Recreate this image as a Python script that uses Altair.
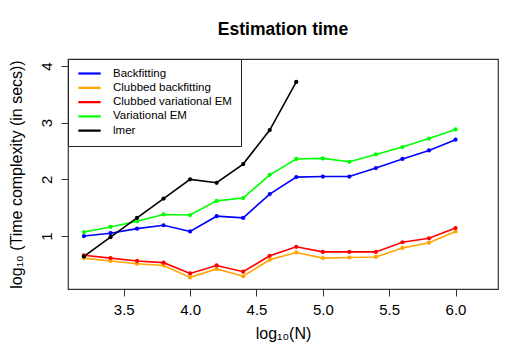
import altair as alt
import pandas as pd

log_n = [3.2, 3.4, 3.6, 3.8, 4.0, 4.2, 4.4, 4.6, 4.8, 5.0, 5.2, 5.4, 5.6, 5.8, 6.0]

backfitting = [1.00, 1.05, 1.13, 1.19, 1.08, 1.35, 1.32, 1.74, 2.04, 2.05, 2.05, 2.20, 2.36, 2.51, 2.70]
clubbed_backfitting = [0.61, 0.56, 0.51, 0.48, 0.27, 0.42, 0.29, 0.58, 0.71, 0.61, 0.62, 0.63, 0.79, 0.88, 1.08]
clubbed_vem = [0.66, 0.61, 0.56, 0.53, 0.34, 0.48, 0.37, 0.65, 0.81, 0.72, 0.72, 0.72, 0.89, 0.96, 1.14]
variational_em = [1.07, 1.16, 1.26, 1.38, 1.37, 1.62, 1.67, 2.08, 2.36, 2.37, 2.31, 2.44, 2.57, 2.72, 2.88]
lmer = [0.64, 0.98, 1.32, 1.66, 2.00, 1.94, 2.27, 2.87, 3.72]

series_names = ["Backfitting", "Clubbed backfitting", "Clubbed variational EM", "Variational EM", "lmer"]
series_values = [backfitting, clubbed_backfitting, clubbed_vem, variational_em, lmer]
series_colors = ["#0000FF", "#FFA500", "#FF0000", "#00FF00", "#000000"]

x_ticks = [3.5, 4.0, 4.5, 5.0, 5.5, 6.0]
y_ticks = [1, 2, 3, 4]

rows = []
for name, vals in zip(series_names, series_values):
    for xv, yv in zip(log_n, vals):
        rows.append({"series": name, "x": xv, "y": yv})
df = pd.DataFrame(rows)

font = "Liberation Sans"

x_enc = alt.X("x:Q", scale=alt.Scale(domain=[3.08, 6.32], nice=False, zero=False),
              axis=alt.Axis(values=x_ticks, format=".1f", title="log₁₀(N)"))
y_enc = alt.Y("y:Q", scale=alt.Scale(domain=[0.065, 4.124], nice=False, zero=False),
              axis=alt.Axis(values=y_ticks, format="d", title="log₁₀ (Time complexity (in secs))",
                            labelAngle=270, labelAlign="center", labelBaseline="middle",
                            labelPadding=15, titlePadding=15))
color_scale = alt.Scale(domain=series_names, range=series_colors)

lines = alt.Chart(df).mark_line(strokeWidth=1.6).encode(
    x=x_enc, y=y_enc,
    color=alt.Color("series:N", scale=color_scale, sort=series_names,
                    legend=alt.Legend(title=None, orient="top-left", offset=0,
                                      symbolType="stroke", symbolStrokeWidth=2.2,
                                      symbolSize=500, clipHeight=11,
                                      labelFontSize=11.5, labelFont=font,
                                      labelOffset=11, rowPadding=2.3, padding=9,
                                      strokeColor="#222222", fillColor="white",
                                      cornerRadius=0, labelLimit=300)),
)
points = alt.Chart(df).mark_circle(size=18, opacity=1).encode(
    x=x_enc, y=y_enc,
    color=alt.Color("series:N", scale=color_scale, legend=None),
)

chart = alt.layer(lines, points).properties(
    width=430, height=230,
    title=alt.TitleParams("Estimation time", font=font, fontSize=17.5, fontWeight="bold",
                          anchor="middle", offset=20),
    autosize=alt.AutoSizeParams(type="none"),
    padding={"left": 60, "top": 51, "right": 22, "bottom": 66},
).configure_view(stroke="#333333", strokeWidth=1.2).configure_axis(
    grid=False, domain=False, tickColor="#333333", tickSize=7, tickWidth=1,
    labelFont=font, labelFontSize=15, labelColor="black",
    titleFont=font, titleFontSize=16, titleFontWeight="normal", titleColor="black",
).configure_axisX(labelPadding=6, titlePadding=8)

chart.save("out.html", embed_options={"renderer": "svg", "actions": False})
